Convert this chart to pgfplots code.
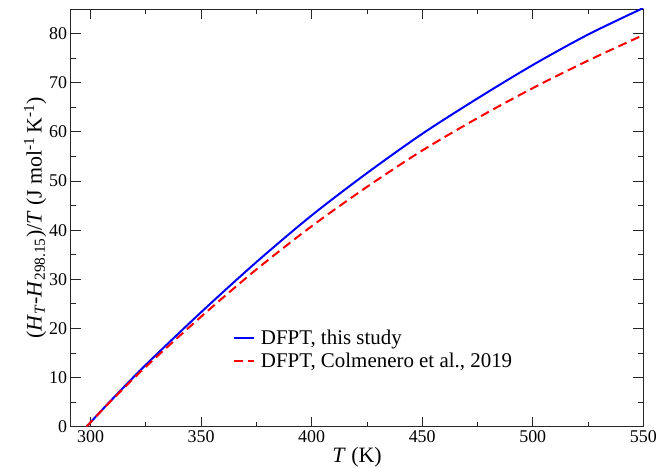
\documentclass[border=0pt]{standalone}
\usepackage{fontspec}
\setmainfont{Liberation Serif}
\usepackage{pgfplots}
\pgfplotsset{compat=1.18}
\definecolor{cblue}{RGB}{0,0,255}
\definecolor{cred}{RGB}{255,0,0}
\begin{document}
\begin{tikzpicture}
\begin{axis}[
  scale only axis, width=572.6bp, height=417.7bp,
  xmin=291, xmax=550, ymin=0, ymax=85,
  xtick={300,350,...,550}, ytick={0,10,...,80},
  xticklabel={\textrm{\pgfmathprintnumber[assume math mode=true]{\tick}}},
  yticklabel={\textrm{\pgfmathprintnumber[assume math mode=true]{\tick}}},
  minor x tick num=1, minor y tick num=1,
  tick align=inside,
  major tick length=10bp, minor tick length=5bp,
  axis line style={line width=0.9bp, black!85},
  every tick/.style={black!85, line width=0.9bp},
  tick label style={font=\fontsize{18}{20}\selectfont\rmfamily},
  label style={font=\fontsize{22}{24}\selectfont},
  xlabel={\textit{T} (K)},
  ylabel={(\textit{H}\textsubscript{\textit{T}}-\textit{H}\textsubscript{298.15})/\textit{T} (J mol\textsuperscript{-1}\,K\textsuperscript{-1})},
  ylabel style={xshift=0bp, yshift=-4bp},
  xlabel style={yshift=2bp},
  legend cell align=left,
  legend style={draw=none, fill=none, font=\fontsize{21}{23}\selectfont,
    at={(axis cs:364.3,15.7)}, anchor=west, inner xsep=0pt, inner ysep=0pt,
    row sep=2.5bp, nodes={inner xsep=6bp}},
  legend image code/.code={\draw[#1] (0bp,0bp) -- (20bp,0bp);},
]
\addplot[cblue, line width=2bp, smooth] coordinates {
(298.15,0) (300,0.9) (310,5.7) (325,12.6) (350,23.3) (375,33.5) (400,43.0)
(425,51.6) (450,59.6) (475,66.8) (500,73.6) (525,79.8) (550,85.2)};
\addlegendentry{DFPT, this study}
\addplot[cred, line width=2bp, smooth, dash pattern=on 9bp off 5bp] coordinates {
(298.15,0) (300,0.9) (310,5.6) (325,12.2) (350,22.4) (375,32.0) (400,40.8)
(425,48.8) (450,56.2) (475,62.8) (500,68.9) (525,74.5) (550,79.7)};
\addlegendentry{DFPT, Colmenero et al., 2019}
\coordinate (sw) at (rel axis cs:0,0);
\coordinate (ne) at (rel axis cs:1,1);
\end{axis}
\pgfresetboundingbox
\path ([shift={(-70.7bp,-41.3bp)}]sw) rectangle ([shift={(13.7bp,9bp)}]ne);
\end{tikzpicture}
\end{document}
